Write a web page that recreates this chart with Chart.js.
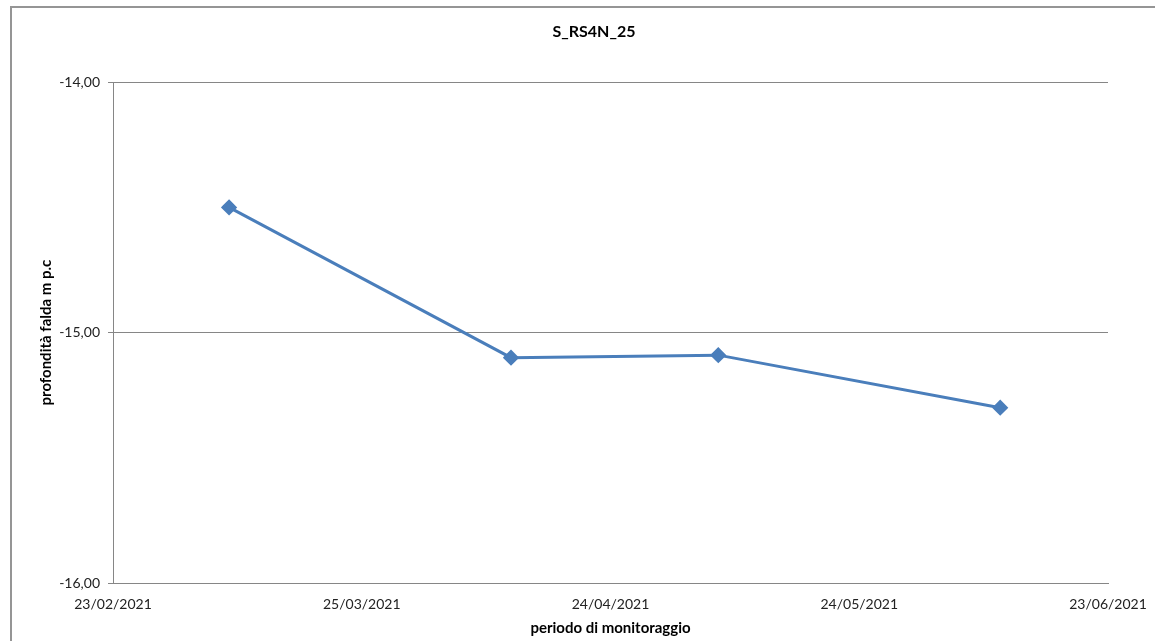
<!DOCTYPE html>
<html lang="it">
<head>
  <meta charset="UTF-8" />
  <title>S_RS4N_25</title>
  <script src="https://cdn.jsdelivr.net/npm/chart.js"></script>
  <style>
    html, body { margin: 0; padding: 0; background: #fff; overflow: hidden; }
    #frame { position: absolute; left: 10px; top: 6px; width: 1300px; height: 800px;
             border-left: 2px solid #959595; border-top: 2px solid #959595; }
    #wrap { position: absolute; left: 0; top: 0; width: 1155px; height: 641px; }
  </style>
</head>
<body>
  <div id="frame"></div>
  <div id="wrap"><canvas id="chart"></canvas></div>

  <script>
    // misure (data rilievo, profondità falda)
    const dates = ["09/03/2021", "12/04/2021", "07/05/2021", "10/06/2021"];
    const depths = [-14.50, -15.10, -15.09, -15.30];

    // asse x: 23/02/2021 -> 23/06/2021, un tick ogni 30 giorni
    const startDate = "23/02/2021";
    const xTickStep = 30;
    const xSpan = 120;
    const yTicks = [-16, -15, -14];

    const DAY = 86400000;
    function parseDate(s) {
      const [d, m, y] = s.split("/").map(Number);
      return Date.UTC(y, m - 1, d);
    }
    function fmtDate(ms) {
      const dt = new Date(ms);
      const dd = String(dt.getUTCDate()).padStart(2, "0");
      const mm = String(dt.getUTCMonth() + 1).padStart(2, "0");
      return dd + "/" + mm + "/" + dt.getUTCFullYear();
    }
    const t0 = parseDate(startDate);
    const points = dates.map((d, i) => ({ x: (parseDate(d) - t0) / DAY, y: depths[i] }));

    const gray = "#868686";
    const font = "Lato, 'Open Sans', sans-serif";

    new Chart(document.getElementById("chart"), {
      type: "line",
      data: {
        datasets: [{
          label: "S_RS4N_25",
          data: points,
          borderColor: "#4a7ebb",
          backgroundColor: "#4a7ebb",
          borderWidth: 3,
          pointStyle: "rectRot",
          pointRadius: 6,
          pointHoverRadius: 6,
          tension: 0
        }]
      },
      options: {
        responsive: true,
        maintainAspectRatio: false,
        animation: false,
        layout: { padding: { left: 33, right: 0, top: 0, bottom: 4 } },
        plugins: {
          legend: { display: false },
          tooltip: { enabled: false },
          title: {
            display: true,
            text: "S_RS4N_25",
            color: "#000",
            font: { family: font, size: 16, weight: "bold" },
            padding: { top: 22, bottom: 41 }
          }
        },
        scales: {
          x: {
            type: "linear",
            min: 0,
            max: xSpan,
            afterBuildTicks: (s) => {
              s.ticks = [];
              for (let v = 0; v <= xSpan; v += xTickStep) s.ticks.push({ value: v });
            },
            afterFit: (s) => { s.height = 54; s.paddingRight = 47; s.paddingLeft = 0; },
            grid: { display: false, drawTicks: false },
            border: { display: true, color: gray, width: 1 },
            ticks: {
              color: "#222",
              padding: 13,
              maxRotation: 0,
              autoSkip: false,
              font: { family: font, size: 14 },
              callback: (v) => fmtDate(t0 + v * DAY)
            },
            title: {
              display: true,
              text: "periodo di monitoraggio",
              color: "#000",
              font: { family: font, size: 15, weight: "bold" },
              padding: { top: 4, bottom: 0 }
            }
          },
          y: {
            min: -16,
            max: -14,
            afterBuildTicks: (s) => { s.ticks = yTicks.map(v => ({ value: v })); },
            afterFit: (s) => { s.width = 80; },
            grid: { color: gray, lineWidth: 1, tickLength: 5, drawTicks: true },
            border: { display: true, color: gray, width: 1 },
            ticks: {
              color: "#222",
              padding: 8,
              font: { family: font, size: 14 },
              callback: (v) => v.toFixed(2).replace(".", ",")
            },
            title: {
              display: true,
              text: "profondità falda m p.c",
              color: "#000",
              font: { family: font, size: 15, weight: "bold" },
              padding: { top: 4, bottom: 4 }
            }
          }
        }
      }
    });
  </script>
</body>
</html>
